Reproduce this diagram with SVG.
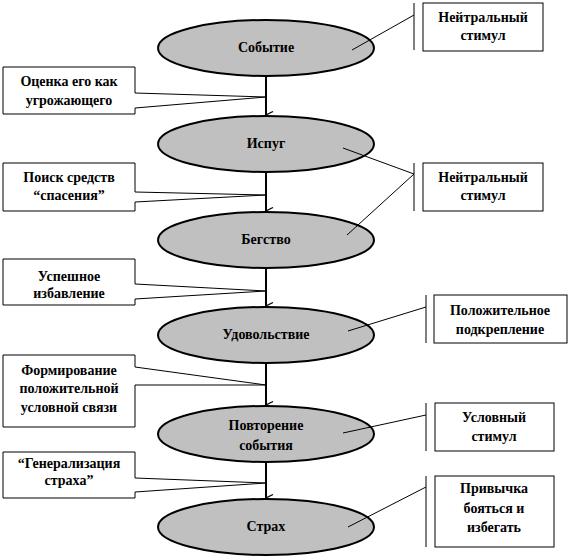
<svg xmlns="http://www.w3.org/2000/svg" width="570" height="560" viewBox="0 0 570 560">
<style>
.el{fill:#c0c0c0;stroke:#000;stroke-width:2}
.bx{fill:#fff;stroke:#000;stroke-width:1}
.ln{fill:none;stroke:#000;stroke-width:1}
.con{fill:none;stroke:#000;stroke-width:2}
text{font-family:"Liberation Serif","DejaVu Serif",serif;font-weight:bold;font-size:14px;text-anchor:middle;fill:#000}
</style>
<defs>
<marker id="ah" markerUnits="userSpaceOnUse" markerWidth="8" markerHeight="9" refX="4" refY="8" orient="auto-start-reverse" viewBox="0 0 8 9">
<path d="M0.5,1 L4,8 L7.5,1" fill="none" stroke="#000" stroke-width="1.2"/>
</marker>
</defs>
<rect width="570" height="560" fill="#fff"/>
<g id="connectors">
<line class="con" x1="266" y1="76" x2="266" y2="115" marker-end="url(#ah)"/>
<line class="con" x1="266" y1="172" x2="266" y2="211" marker-end="url(#ah)"/>
<line class="con" x1="266" y1="268" x2="266" y2="306" marker-end="url(#ah)"/>
<line class="con" x1="266" y1="363" x2="266" y2="405" marker-end="url(#ah)"/>
<line class="con" x1="266" y1="462" x2="266" y2="498" marker-end="url(#ah)"/>
</g>
<g id="n-sobytie"><ellipse class="el" cx="266" cy="48" rx="108" ry="28"/><text x="266" y="52">Событие</text></g>
<g id="n-ispug"><ellipse class="el" cx="266" cy="144" rx="108" ry="28"/><text x="266" y="148">Испуг</text></g>
<g id="n-begstvo"><ellipse class="el" cx="266" cy="240" rx="108" ry="28"/><text x="266" y="244">Бегство</text></g>
<g id="n-udovolstvie"><ellipse class="el" cx="266" cy="335" rx="108" ry="28"/><text x="266" y="339">Удовольствие</text></g>
<g id="n-povtorenie"><ellipse class="el" cx="266" cy="434" rx="108" ry="28"/><text x="266" y="430">Повторение</text><text x="266" y="450">события</text></g>
<g id="n-strah"><ellipse class="el" cx="266" cy="527" rx="108" ry="28"/><text x="266" y="531">Страх</text></g>

<g id="l-ocenka">
<path class="bx" d="M135,93 V67 H3 V114 H135 V108"/>
<path class="ln" d="M135,93 L266,97 L135,108"/>
<text x="69" y="86">Оценка его как</text><text x="69" y="105">угрожающего</text>
</g>
<g id="l-poisk">
<path class="bx" d="M135,192 V163 H3 V211 H135 V202"/>
<path class="ln" d="M135,192 L266,195 L135,202"/>
<text x="69" y="182">Поиск средств</text><text x="69" y="200">“спасения”</text>
</g>
<g id="l-uspeshnoe">
<path class="bx" d="M135,284 V259 H3 V305 H135 V299"/>
<path class="ln" d="M135,284 L266,291 L135,299"/>
<text x="69" y="281">Успешное</text><text x="69" y="298">избавление</text>
</g>
<g id="l-formirovanie">
<path class="bx" d="M135,367 V355 H3 V427 H135 V385"/>
<path class="ln" d="M135,367 L266,385 L135,385"/>
<text x="69" y="375">Формирование</text><text x="69" y="393">положительной</text><text x="69" y="412">условной связи</text>
</g>
<g id="l-generalizacia">
<path class="bx" d="M135,478 V452 H3 V498 H135 V492"/>
<path class="ln" d="M135,478 L266,483 L135,492"/>
<text x="69" y="468">“Генерализация</text><text x="69" y="485">страха”</text>
</g>

<g id="r-neutral1">
<rect class="bx" x="423" y="3" width="120" height="48"/>
<line class="ln" x1="414" y1="3" x2="414" y2="50"/>
<line class="ln" x1="414" y1="15" x2="352" y2="50"/>
<text x="483" y="22">Нейтральный</text><text x="483" y="40">стимул</text>
</g>
<g id="r-neutral2">
<rect class="bx" x="423" y="163" width="120" height="48"/>
<line class="ln" x1="414" y1="163" x2="414" y2="211"/>
<line class="ln" x1="414" y1="174" x2="343" y2="148"/>
<line class="ln" x1="414" y1="174" x2="347" y2="235"/>
<text x="483" y="182">Нейтральный</text><text x="483" y="200">стимул</text>
</g>
<g id="r-polozhitelnoe">
<rect class="bx" x="434" y="295" width="133" height="48"/>
<line class="ln" x1="426" y1="295" x2="426" y2="343"/>
<line class="ln" x1="426" y1="307" x2="348" y2="331"/>
<text x="500" y="315">Положительное</text><text x="500" y="334">подкрепление</text>
</g>
<g id="r-uslovny">
<rect class="bx" x="435" y="403" width="119" height="48"/>
<line class="ln" x1="426" y1="403" x2="426" y2="451"/>
<line class="ln" x1="426" y1="415" x2="343" y2="433"/>
<text x="494" y="422">Условный</text><text x="494" y="441">стимул</text>
</g>
<g id="r-privychka">
<rect class="bx" x="435" y="476" width="119" height="71"/>
<line class="ln" x1="426" y1="476" x2="426" y2="547"/>
<line class="ln" x1="426" y1="487" x2="348" y2="527"/>
<text x="494" y="493">Привычка</text><text x="494" y="513">бояться и</text><text x="494" y="532">избегать</text>
</g>
</svg>
